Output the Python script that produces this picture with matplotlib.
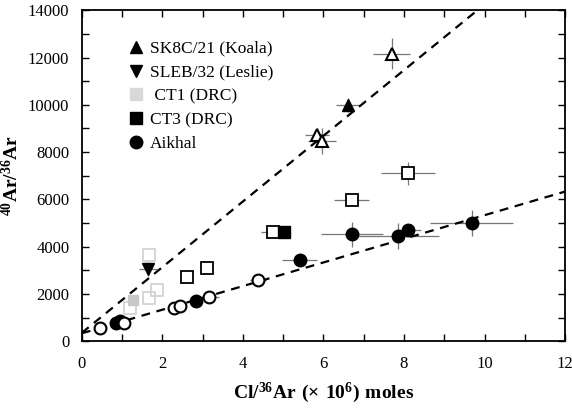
import matplotlib
matplotlib.use("Agg")
import matplotlib.pyplot as plt
from matplotlib.lines import Line2D
from matplotlib.ticker import MultipleLocator

plt.rcParams['font.family'] = ['Liberation Serif', 'DejaVu Serif']
plt.rcParams['mathtext.fontset'] = 'custom'
plt.rcParams['mathtext.rm'] = 'Liberation Serif'
plt.rcParams['mathtext.bf'] = 'Liberation Serif:bold'

# SK8C/21 (Koala)
koala_filled_x = [6.6]
koala_filled_y = [9980]
koala_filled_xerr = [0.3]
koala_filled_yerr = [300]
koala_open_x = [5.83, 5.96, 7.69]
koala_open_y = [8710, 8460, 12170]
koala_open_xerr = [0.3, 0.35, 0.47]
koala_open_yerr = [300, 560, 640]

# SLEB/32 (Leslie)
leslie_x = [1.64]
leslie_y = [3050]
leslie_xerr = [0.22]
leslie_yerr = [300]

# CT1 (DRC)
ct1_open_x = [1.66, 1.86, 1.66, 1.2]
ct1_open_y = [3640, 2160, 1820, 1400]
ct1_fill_x = [1.27]
ct1_fill_y = [1730]

# CT3 (DRC)
ct3_open_x = [2.6, 3.1, 4.74, 6.7, 8.1]
ct3_open_y = [2710, 3090, 4610, 5960, 7100]
ct3_open_xerr = [0.0, 0.0, 0.3, 0.44, 0.66]
ct3_open_yerr = [0, 0, 0, 250, 490]
ct3_fill_x = [5.01]
ct3_fill_y = [4610]

# Aikhal
aik_fill_x = [0.85, 0.95, 2.83, 5.41, 6.72, 7.85, 8.1, 9.68]
aik_fill_y = [780, 850, 1700, 3420, 4520, 4440, 4700, 5000]
aik_fill_xerr = [0.0, 0.0, 0.0, 0.43, 0.77, 1.03, 0.31, 1.03]
aik_fill_yerr = [0, 0, 0, 0, 530, 560, 0, 530]
aik_open_x = [0.45, 1.05, 2.28, 2.43, 3.15, 4.37]
aik_open_y = [550, 770, 1400, 1480, 1880, 2580]
aik_open_xerr = [0.0, 0.0, 0.15, 0.15, 0.25, 0.2]

# regression lines (intercept, slope)
upper_line = (350, 1390)
lower_line = (330, 500)
line_x = [0, 12]

fig = plt.figure(figsize=(5.72, 4.12), dpi=100)
ax = fig.add_axes([0.143, 0.172, 0.845, 0.803])

for b, m in (upper_line, lower_line):
    ax.plot(line_x, [b + m * x for x in line_x], ls=(0, (4, 3)), color='black', lw=1.6, zorder=2)

ekw = dict(fmt='none', ecolor='#777777', elinewidth=0.9, capsize=0, zorder=1)
ax.errorbar(koala_filled_x, koala_filled_y, xerr=koala_filled_xerr, yerr=koala_filled_yerr, **ekw)
ax.errorbar(koala_open_x, koala_open_y, xerr=koala_open_xerr, yerr=koala_open_yerr, **ekw)
ax.errorbar(leslie_x, leslie_y, xerr=leslie_xerr, yerr=leslie_yerr, **ekw)
ax.errorbar(ct3_open_x, ct3_open_y, xerr=ct3_open_xerr, yerr=ct3_open_yerr, **ekw)
ax.errorbar(aik_fill_x, aik_fill_y, xerr=aik_fill_xerr, yerr=aik_fill_yerr, **ekw)
ax.errorbar(aik_open_x, aik_open_y, xerr=aik_open_xerr, **ekw)

mk = dict(ls='none', zorder=3)
ax.plot(koala_filled_x, koala_filled_y, marker='^', ms=8, color='black', **mk)
ax.plot(koala_open_x, koala_open_y, marker='^', ms=8, mfc='white', mec='black', mew=1.5, **mk)
ax.plot(leslie_x, leslie_y, marker='v', ms=8, color='black', **mk)
ax.plot(ct1_open_x, ct1_open_y, marker='s', ms=8, mfc='none', mec='#d0d0d0', mew=1.2, **mk)
ax.plot(ct1_fill_x, ct1_fill_y, marker='s', ms=7, mfc='#c8c8c8', mec='#c8c8c8', **mk)
ax.plot(ct3_open_x, ct3_open_y, marker='s', ms=8, mfc='white', mec='black', mew=1.3, **mk)
ax.plot(ct3_fill_x, ct3_fill_y, marker='s', ms=8, color='black', **mk)
ax.plot(aik_fill_x, aik_fill_y, marker='o', ms=9, color='black', **mk)
ax.plot(aik_open_x, aik_open_y, marker='o', ms=8.5, mfc='white', mec='black', mew=1.5, **mk)

ax.set_xlim(0, 12)
ax.set_ylim(0, 14000)
ax.xaxis.set_major_locator(MultipleLocator(2))
ax.xaxis.set_minor_locator(MultipleLocator(1))
ax.yaxis.set_major_locator(MultipleLocator(2000))
ax.yaxis.set_minor_locator(MultipleLocator(1000))
ax.tick_params(which='both', direction='in', top=True, right=True, labelsize=12, width=1)
ax.tick_params(which='major', length=5)
ax.tick_params(which='minor', length=5)
ax.tick_params(axis='x', which='major', pad=11)
ax.tick_params(axis='y', which='major', pad=9)
for s in ax.spines.values():
    s.set_linewidth(1.3)

ax.set_xlabel(r'$\mathbf{Cl/^{36}Ar\ (\times\ 10^{6})\ moles}$', fontsize=14, labelpad=6)
ax.set_ylabel(r'$\mathbf{^{40}Ar/^{36}Ar}$', fontsize=14, labelpad=4)

handles = [
    Line2D([], [], ls='none', marker='^', ms=8, color='black'),
    Line2D([], [], ls='none', marker='v', ms=8, color='black'),
    Line2D([], [], ls='none', marker='s', ms=8, color='#d8d8d8'),
    Line2D([], [], ls='none', marker='s', ms=8, color='black'),
    Line2D([], [], ls='none', marker='o', ms=9, color='black'),
]
labels = ['SK8C/21 (Koala)', 'SLEB/32 (Leslie)', ' CT1 (DRC)', 'CT3 (DRC)', 'Aikhal']
ax.legend(handles, labels, loc='upper left', bbox_to_anchor=(0.08, 0.935), frameon=False,
          fontsize=12.5, handlelength=0.8, handletextpad=0.4, labelspacing=0.45, borderpad=0)

fig.savefig('out.png', dpi=100)
